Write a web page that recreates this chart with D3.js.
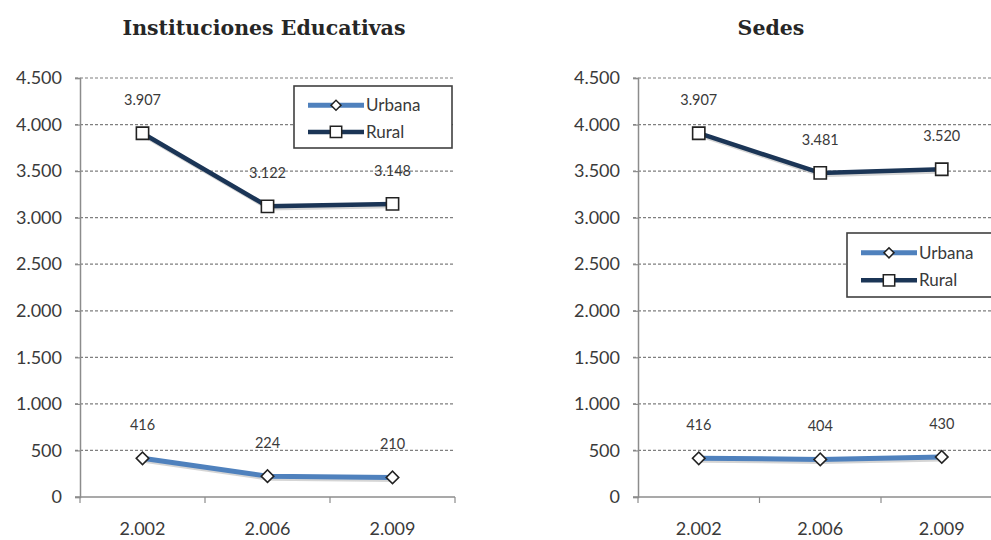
<!DOCTYPE html>
<html>
<head>
<meta charset="utf-8">
<script src="https://cdn.jsdelivr.net/npm/d3@7"></script>
<style>
  html, body { margin: 0; padding: 0; background: #fff; overflow: hidden; }
  svg { display: block; }
</style>
</head>
<body>
<svg id="chart" width="991" height="540"></svg>
<script>
// Years on the category axis (written with the Spanish thousands separator)
const years = ["2.002", "2.006", "2.009"];

// Instituciones Educativas
const instUrbana = [416, 224, 210];
const instRural  = [3907, 3122, 3148];

// Sedes
const sedesUrbana = [416, 404, 430];
const sedesRural  = [3907, 3481, 3520];

// Value axis ticks
const yTickValues = [0, 500, 1000, 1500, 2000, 2500, 3000, 3500, 4000, 4500];
const yMax = 4500;

const locale = d3.formatLocale({ decimal: ",", thousands: ".", grouping: [3], currency: ["$", ""] });
const fmt = locale.format(",d");

const colors = { Urbana: "#4f81bd", Rural: "#1b3556" };
const sansFont = "Lato, 'Open Sans', sans-serif";

const svg = d3.select("#chart");

// Excel-like marker shapes: open square and a rotated square (diamond)
function markerPath(kind, big) {
  if (kind === "square") return d3.symbol().type(d3.symbolSquare).size(big ? 150 : 130)();
  return d3.symbol().type(d3.symbolSquare).size(big ? 78 : 50)();
}
function markerRotate(kind) { return kind === "square" ? 0 : 45; }

function drawPanel(opt) {
  const g = svg.append("g");

  const x = d3.scaleBand().domain(years).range([opt.x0, opt.x1]);
  const y = d3.scaleLinear().domain([0, yMax]).range([opt.yBottom, opt.yTop]);

  // Title
  g.append("text")
    .attr("x", opt.titleX)
    .attr("y", opt.titleY)
    .attr("text-anchor", "middle")
    .style("font-family", "'DejaVu Serif', 'Liberation Serif', serif")
    .style("font-weight", "bold")
    .style("font-size", "20.5px")
    .style("fill", "#262626")
    .text(opt.title);

  // Dashed horizontal gridlines
  g.append("g")
    .selectAll("line")
    .data(yTickValues.filter(d => d > 0))
    .join("line")
    .attr("x1", opt.x0 - 5)
    .attr("x2", opt.x1)
    .attr("y1", d => y(d))
    .attr("y2", d => y(d))
    .attr("stroke", "#7f7f7f")
    .attr("stroke-width", 1.2)
    .attr("stroke-dasharray", "3,2");

  // Value axis
  const yAxis = d3.axisLeft(y).tickValues(yTickValues).tickFormat(fmt).tickSize(5).tickPadding(13);
  const ya = g.append("g").attr("transform", `translate(${opt.x0},0)`).call(yAxis);
  ya.select(".domain").attr("stroke", "#8c8c8c").attr("stroke-width", 1.5);
  ya.selectAll(".tick line").attr("stroke", "#8c8c8c").attr("stroke-width", 1.2);
  ya.selectAll(".tick text")
    .style("font-size", "18px")
    .style("font-family", sansFont)
    .attr("fill", "#3a3a3a");

  // Category axis with ticks on band boundaries
  const xa = g.append("g").attr("transform", `translate(0,${opt.yBottom})`);
  xa.append("line")
    .attr("x1", opt.x0 - 5).attr("x2", opt.x1)
    .attr("stroke", "#8c8c8c").attr("stroke-width", 1.5);
  const bounds = years.map(d => x(d)).concat([x(years[years.length - 1]) + x.bandwidth()]);
  xa.selectAll("line.bt")
    .data(bounds)
    .join("line")
    .attr("class", "bt")
    .attr("x1", d => d).attr("x2", d => d)
    .attr("y1", 0).attr("y2", 6)
    .attr("stroke", "#8c8c8c").attr("stroke-width", 1.2);
  xa.selectAll("text")
    .data(years)
    .join("text")
    .attr("x", d => x(d) + x.bandwidth() / 2)
    .attr("y", 38)
    .attr("text-anchor", "middle")
    .style("font-family", sansFont)
    .style("font-size", "18px")
    .style("fill", "#3a3a3a")
    .text(d => d);

  const cx = d => x(d) + x.bandwidth() / 2;
  const series = [
    { name: "Urbana", values: opt.urbana, marker: "diamond" },
    { name: "Rural", values: opt.rural, marker: "square" }
  ];

  const line = d3.line().x(d => cx(d.year)).y(d => y(d.value));

  series.forEach(s => {
    const pts = years.map((yr, i) => ({ year: yr, value: s.values[i] }));
    const w = s.name === "Urbana" ? 5 : 4.5;
    // soft shadow under the line
    g.append("path")
      .datum(pts)
      .attr("d", line)
      .attr("transform", "translate(1.5,2)")
      .attr("fill", "none")
      .attr("stroke", "#b9b9b9")
      .attr("stroke-width", w)
      .attr("opacity", 0.6);
    g.append("path")
      .datum(pts)
      .attr("d", line)
      .attr("fill", "none")
      .attr("stroke", colors[s.name])
      .attr("stroke-width", w)
      .attr("stroke-linejoin", "round");

    g.selectAll(null)
      .data(pts)
      .join("path")
      .attr("d", markerPath(s.marker, true))
      .attr("transform", d => `translate(${cx(d.year)},${y(d.value)}) rotate(${markerRotate(s.marker)})`)
      .attr("fill", "#fff")
      .attr("stroke", "#222")
      .attr("stroke-width", 1.6);

    g.selectAll(null)
      .data(pts)
      .join("text")
      .attr("x", d => cx(d.year))
      .attr("y", d => y(d.value) - 28)
      .attr("text-anchor", "middle")
      .style("font-family", sansFont)
      .style("font-size", "14.5px")
      .style("fill", "#3a3a3a")
      .text(d => fmt(d.value));
  });

  // Legend
  const lg = g.append("g").attr("transform", `translate(${opt.legendX},${opt.legendY})`);
  lg.append("rect")
    .attr("width", opt.legendW).attr("height", opt.legendH)
    .attr("fill", "#fff").attr("stroke", "#404040").attr("stroke-width", 1.6);
  series.forEach((s, i) => {
    const ly = opt.legendH * (i === 0 ? 0.31 : 0.74);
    lg.append("line")
      .attr("x1", 14).attr("x2", 70).attr("y1", ly).attr("y2", ly)
      .attr("stroke", colors[s.name]).attr("stroke-width", s.name === "Urbana" ? 5 : 4.5);
    lg.append("path")
      .attr("d", markerPath(s.marker, false))
      .attr("transform", `translate(42,${ly}) rotate(${markerRotate(s.marker)})`)
      .attr("fill", "#fff").attr("stroke", "#222").attr("stroke-width", 1.5);
    lg.append("text")
      .attr("x", 72).attr("y", ly)
      .attr("dy", "0.35em")
      .style("font-family", sansFont)
      .style("font-size", "17px")
      .style("fill", "#3a3a3a")
      .text(s.name);
  });
}

drawPanel({
  title: "Instituciones Educativas", titleX: 264, titleY: 35,
  x0: 80, x1: 455, yTop: 78, yBottom: 497,
  urbana: instUrbana, rural: instRural,
  legendX: 294, legendY: 86, legendW: 158, legendH: 62
});

drawPanel({
  title: "Sedes", titleX: 771, titleY: 35,
  x0: 638, x1: 1002.5, yTop: 78, yBottom: 497,
  urbana: sedesUrbana, rural: sedesRural,
  legendX: 847, legendY: 233, legendW: 160, legendH: 64
});
</script>
</body>
</html>
